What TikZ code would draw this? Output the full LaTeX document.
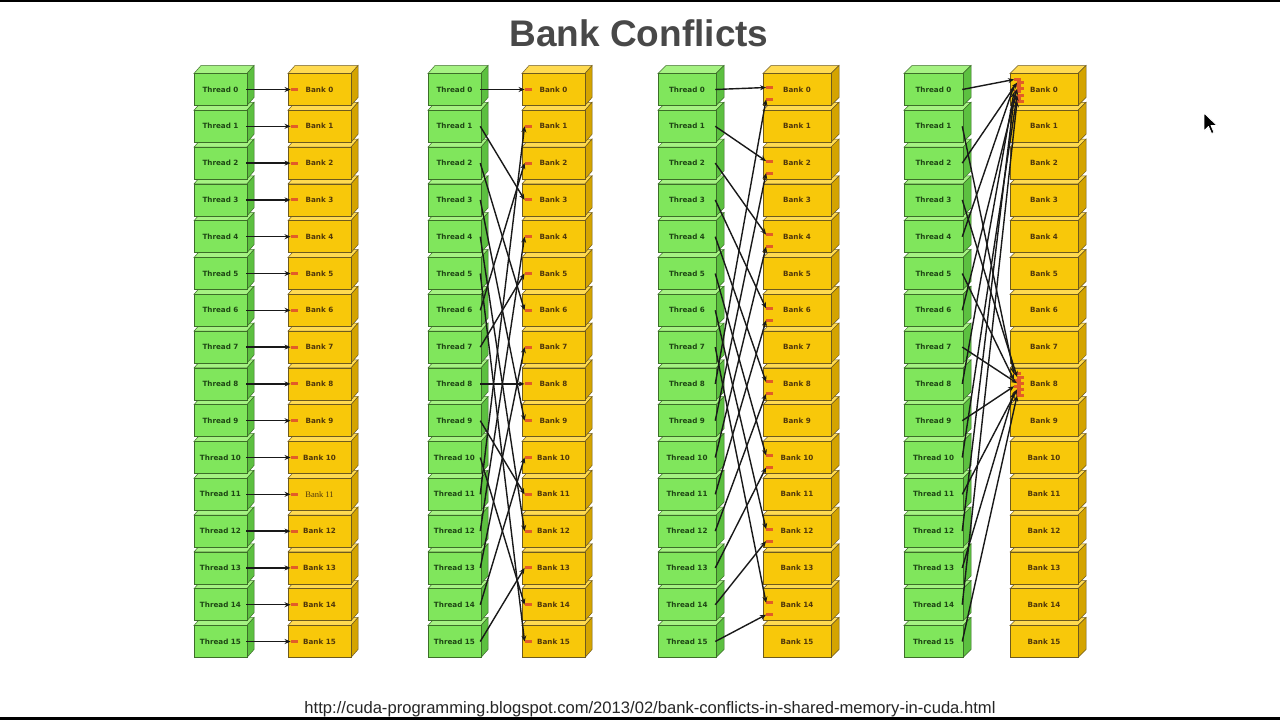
\documentclass[tikz,border=0pt]{standalone}
\usepackage{fontspec}
\setmainfont{Liberation Sans}
\newfontfamily\lblfont{DejaVu Sans}
\newfontfamily\serlbl{Liberation Serif}
\usetikzlibrary{arrows.meta}
\definecolor{thrFront}{RGB}{128,230,92}
\definecolor{thrTop}{RGB}{165,242,130}
\definecolor{thrSide}{RGB}{92,192,64}
\definecolor{thrEdge}{RGB}{60,110,40}
\definecolor{thrText}{RGB}{30,70,20}
\definecolor{bnkFront}{RGB}{248,200,10}
\definecolor{bnkTop}{RGB}{255,218,80}
\definecolor{bnkSide}{RGB}{212,164,0}
\definecolor{bnkEdge}{RGB}{110,90,30}
\definecolor{bnkText}{RGB}{80,55,10}
\definecolor{markRed}{RGB}{226,92,40}
\definecolor{titleGray}{RGB}{72,72,72}
\tikzset{
  cubebox/.style={draw, line width=0.5pt, minimum height=32pt, inner sep=0pt,
    font=\lblfont\bfseries\fontsize{7.2}{8}\selectfont},
  thrbox/.style={cubebox, draw=thrEdge, fill=thrFront, text=thrText},
  bankbox/.style={cubebox, draw=bnkEdge, fill=bnkFront, text=bnkText},
  bankmark/.style={fill=markRed, draw=none, minimum width=7pt, minimum height=3pt, inner sep=0pt},
  conn/.style={draw=black!90, line width=1.4pt, -{Stealth[length=6pt,width=5pt]}},
}
\newcommand{\thrlbl}[1]{Thread #1}
\newcommand{\bnklbl}[1]{Bank #1}
\newcommand{\bnklblA}[1]{\ifnum#1=11 {\serlbl\mdseries\fontsize{8.5}{9}\selectfont Bank 11}\else Bank #1\fi}
% #1 prefix, #2 left x, #3 width, #4 node style, #5 label macro, #6 top colour, #7 side colour, #8 edge colour, #9 depth
\newcommand{\drawstack}[9]{%
  \foreach \i in {15,14,...,0}{%
    \pgfmathsetmacro{\cy}{89.5+\i*36.8}%
    \pgfmathsetmacro{\cx}{#2+#3/2}%
    \filldraw[fill=#6, draw=#8, line width=0.5pt] (#2,\cy-16) -- ++(#9,-8) -- ++(#3,0) -- ++(-#9,8) -- cycle;
    \filldraw[fill=#7, draw=#8, line width=0.5pt] (#2+#3,\cy-16) -- ++(#9,-8) -- ++(0,32) -- ++(-#9,8) -- cycle;
    \node[#4, minimum width=#3pt] (#1\i) at (\cx,\cy) {#5{\i}};
  }}
\begin{document}
\begin{tikzpicture}[x=1pt,y=-1pt]
\useasboundingbox (0,0) rectangle (1280,720);
\fill[white] (0,0) rectangle (1280,720);
\fill[black] (0,0) rectangle (1280,2);
\fill[black] (0,717) rectangle (1280,720);

\node[font=\bfseries\fontsize{37}{37}\selectfont, text=titleGray] (title) at (639,33) {Bank Conflicts};
\node[font=\fontsize{16.6}{17}\selectfont, text=black!85] (url) at (650,709.5) {http://cuda-programming.blogspot.com/2013/02/bank-conflicts-in-shared-memory-in-cuda.html};

% ---------- panel 1 : linear ----------
\drawstack{p1t}{194}{53}{thrbox}{\thrlbl}{thrTop}{thrSide}{thrEdge}{7}
\drawstack{p1b}{288}{63}{bankbox}{\bnklblA}{bnkTop}{bnkSide}{bnkEdge}{7}
\foreach \i in {0,...,15}{
  \node[bankmark] (p1m\i) at ([xshift=6.5pt]p1b\i.west) {};
}
\foreach \i in {0,...,15}{
  \draw[conn] ([xshift=-1pt]p1t\i.east) -- (p1m\i.west);
}

% ---------- panel 2 : stride 3 ----------
\drawstack{p2t}{428}{53}{thrbox}{\thrlbl}{thrTop}{thrSide}{thrEdge}{7}
\drawstack{p2b}{522}{63}{bankbox}{\bnklbl}{bnkTop}{bnkSide}{bnkEdge}{7}
\foreach \i in {0,...,15}{
  \node[bankmark] (p2m\i) at ([xshift=6.5pt]p2b\i.west) {};
}
\foreach \i in {0,...,15}{
  \pgfmathtruncatemacro{\j}{mod(3*\i,16)}
  \draw[conn] ([xshift=-1pt]p2t\i.east) -- (p2m\j.west);
}

% ---------- panel 3 : stride 2 ----------
\drawstack{p3t}{658}{58}{thrbox}{\thrlbl}{thrTop}{thrSide}{thrEdge}{8}
\drawstack{p3b}{763}{68}{bankbox}{\bnklbl}{bnkTop}{bnkSide}{bnkEdge}{8}
\foreach \k in {0,2,...,14}{
  \node[bankmark] (p3u\k) at ([xshift=7pt,yshift=2pt]p3b\k.west) {};
  \node[bankmark] (p3l\k) at ([xshift=7pt,yshift=-10pt]p3b\k.west) {};
}
\foreach \i in {0,...,7}{
  \pgfmathtruncatemacro{\j}{2*\i}
  \draw[conn] ([xshift=-1pt]p3t\i.east) -- (p3u\j.west);
}
\foreach \i in {8,...,15}{
  \pgfmathtruncatemacro{\j}{2*(\i-8)}
  \draw[conn] ([xshift=-1pt]p3t\i.east) -- (p3l\j.west);
}

% ---------- panel 4 : stride 8 ----------
\drawstack{p4t}{904}{59}{thrbox}{\thrlbl}{thrTop}{thrSide}{thrEdge}{8}
\drawstack{p4b}{1010}{68}{bankbox}{\bnklbl}{bnkTop}{bnkSide}{bnkEdge}{8}
\foreach \i in {0,...,15}{
  \pgfmathtruncatemacro{\b}{8*mod(\i,2)}
  \pgfmathtruncatemacro{\k}{int(\i/2)}
  \pgfmathsetmacro{\mx}{8+mod(\k,2)*3}
  \pgfmathsetmacro{\my}{10-3.1*\k}
  \node[bankmark] (p4m\i) at ([xshift=\mx pt,yshift=\my pt]p4b\b.west) {};
}
\foreach \i in {0,...,15}{
  \draw[conn] ([xshift=-1pt]p4t\i.east) -- (p4m\i.west);
}

% ---------- mouse pointer ----------
\filldraw[fill=black, draw=white, line width=0.8pt, line join=round]
  (1204,113) -- (1204,131) -- (1208.5,126.5) -- (1211.5,133.5) -- (1214,132.5) -- (1211,125.5) -- (1217,125.5) -- cycle;
\end{tikzpicture}
\end{document}
